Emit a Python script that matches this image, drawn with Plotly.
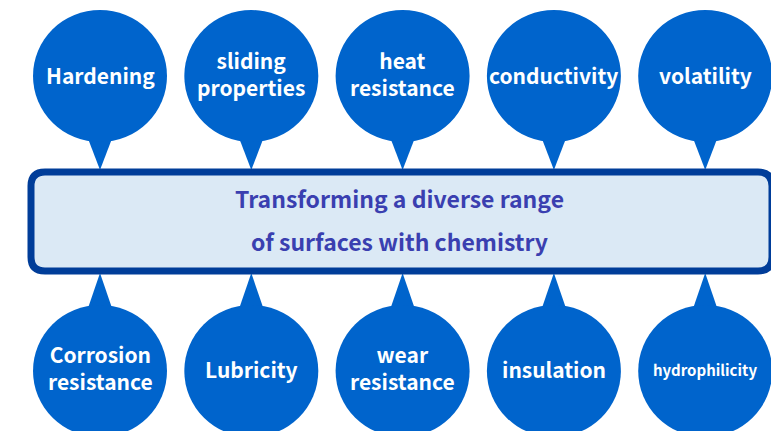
"""
Diagram: surface properties around the central chemistry box
"""
import plotly.graph_objects as go

# labels of the bubbles above and below the box
top_labels = ["Hardening", "sliding<br>properties", "heat<br>resistance", "conductivity", "volatility"]
bottom_labels = ["Corrosion<br>resistance", "Lubricity", "wear<br>resistance", "insulation", "hydrophilicity"]
bottom_sizes = [21, 21, 21, 21, 15]
center_lines = ["Transforming a diverse range", "of surfaces with chemistry"]

BLUE = "#0064cc"
DARK = "#003d99"
FILL = "#dbe9f5"
TXT = "#3a3fb0"
FONT = "Noto Sans CJK JP"

W, H = 779, 431
OFF = 8  # page body margin, figure is drawn shifted by it
R = 67
x0, step = 100, 151.3
top_y, bot_y = 76, 371
box = dict(x0=31, x1=772, y0=172, y1=271, r=14)

shapes = []
annots = []


def bubble(cx, cy, tip_y, base_y):
    # tail triangle then circle
    shapes.append(dict(type="path", path=f"M {cx-13},{base_y} L {cx},{tip_y} L {cx+13},{base_y} Z",
                       fillcolor=BLUE, line=dict(width=0), layer="above"))
    shapes.append(dict(type="circle", x0=cx - R, x1=cx + R, y0=cy - R + 1, y1=cy + R - 1,
                       fillcolor=BLUE, line=dict(width=0), layer="above"))


def label_y(cy, lab):
    # two-line labels sit a touch higher
    return cy - (3 if "<br>" in lab else 1)


for i, lab in enumerate(top_labels):
    cx = x0 + step * i
    bubble(cx, top_y, box["y0"] - 2, top_y + 60)
    annots.append(dict(x=cx, y=label_y(top_y, lab), text=lab, showarrow=False,
                       font=dict(family=FONT, size=21, color="white", weight="bold")))

for i, lab in enumerate(bottom_labels):
    cx = x0 + step * i
    bubble(cx, bot_y, box["y1"] + 2, bot_y - 60)
    annots.append(dict(x=cx, y=label_y(bot_y - 1, lab), text=lab, showarrow=False,
                       font=dict(family=FONT, size=bottom_sizes[i], color="white", weight="bold")))

# rounded box
b = box
p = (f"M {b['x0']+b['r']},{b['y0']} L {b['x1']-b['r']},{b['y0']} "
     f"Q {b['x1']},{b['y0']} {b['x1']},{b['y0']+b['r']} L {b['x1']},{b['y1']-b['r']} "
     f"Q {b['x1']},{b['y1']} {b['x1']-b['r']},{b['y1']} L {b['x0']+b['r']},{b['y1']} "
     f"Q {b['x0']},{b['y1']} {b['x0']},{b['y1']-b['r']} L {b['x0']},{b['y0']+b['r']} "
     f"Q {b['x0']},{b['y0']} {b['x0']+b['r']},{b['y0']} Z")
shapes.append(dict(type="path", path=p, fillcolor=FILL, line=dict(color=DARK, width=7), layer="above"))

for yy, t in zip([198, 241], center_lines):
    annots.append(dict(x=399, y=yy, text=t, showarrow=False,
                       font=dict(family=FONT, size=23, color=TXT, weight="bold")))

fig = go.Figure()
fig.update_layout(
    width=W - OFF, height=H - OFF,
    margin=dict(l=0, r=0, t=0, b=0),
    paper_bgcolor="white", plot_bgcolor="white",
    xaxis=dict(range=[OFF, W], visible=False, fixedrange=True),
    yaxis=dict(range=[H, OFF], visible=False, fixedrange=True),
    shapes=shapes, annotations=annots, showlegend=False,
)
fig.write_html("out.html")
